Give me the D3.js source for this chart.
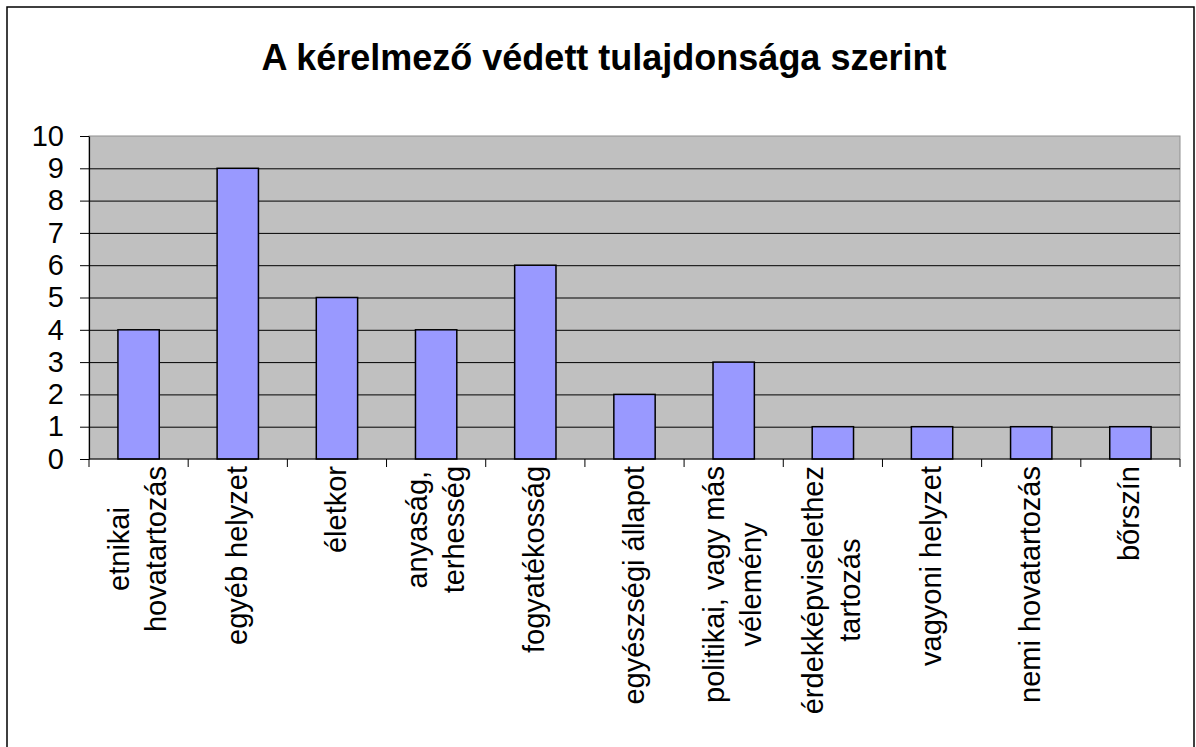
<!DOCTYPE html>
<html>
<head>
<meta charset="utf-8">
<script src="https://cdn.jsdelivr.net/npm/d3@7"></script>
<style>
  body { margin: 0; background: #fff; }
  svg { display: block; font-family: "Liberation Sans", Arial, sans-serif; }
</style>
</head>
<body>
<div id="chart"></div>
<script>
// chart data
var title = "A kérelmező védett tulajdonsága szerint";
var categories = [
   "etnikai\nhovatartozás",
   "egyéb helyzet",
   "életkor",
   "anyaság,\nterhesség",
   "fogyatékosság",
   "egyészségi állapot",
   "politikai, vagy más\nvélemény",
   "érdekképviselethez\ntartozás",
   "vagyoni helyzet",
   "nemi hovatartozás",
   "bőrszín"
];
var values = [4, 9, 5, 4, 6, 2, 3, 1, 1, 1, 1];
var yTicks = [0, 1, 2, 3, 4, 5, 6, 7, 8, 9, 10];

var width = 1196, height = 747;
var plot = {left: 89, right: 1180, top: 136, bottom: 459};

var svg = d3.select("#chart").append("svg")
   .attr("width", width)
   .attr("height", height);

// outer frame of the chart
svg.append("rect")
   .attr("x", 7).attr("y", 7)
   .attr("width", 1187).attr("height", 760)
   .attr("fill", "#fff")
   .attr("stroke", "#000")
   .attr("stroke-width", 1.5);

svg.append("text")
   .attr("x", 604).attr("y", 70)
   .attr("text-anchor", "middle")
   .attr("font-size", 36)
   .attr("font-weight", "bold")
   .text(title);

var x = d3.scaleBand()
   .domain(categories)
   .range([plot.left, plot.right])
   .padding(0);

var y = d3.scaleLinear()
   .domain([0, 10])
   .range([plot.bottom, plot.top]);

// grey plot area
svg.append("rect")
   .attr("x", plot.left).attr("y", plot.top)
   .attr("width", plot.right - plot.left)
   .attr("height", plot.bottom - plot.top)
   .attr("fill", "#c0c0c0")
   .attr("stroke", "#909090")
   .attr("stroke-width", 1);

// horizontal grid lines
svg.append("g").selectAll("line")
   .data(yTicks.slice(1, -1))
   .enter().append("line")
   .attr("x1", plot.left).attr("x2", plot.right)
   .attr("y1", function (d) { return y(d) + 0.5; })
   .attr("y2", function (d) { return y(d) + 0.5; })
   .attr("stroke", "#000")
   .attr("stroke-width", 1);

// bars, excel style gap width 140%
var barW = x.bandwidth() / 2.4;
svg.append("g").selectAll("rect")
   .data(values)
   .enter().append("rect")
   .attr("x", function (d, i) { return x(categories[i]) + x.bandwidth() / 2 - barW / 2; })
   .attr("y", function (d) { return y(d); })
   .attr("width", barW)
   .attr("height", function (d) { return y(0) - y(d); })
   .attr("fill", "#9999ff")
   .attr("stroke", "#000")
   .attr("stroke-width", 1.5);

// y axis
var yAxis = svg.append("g")
   .attr("transform", "translate(" + plot.left + ",0)")
   .call(d3.axisLeft(y).tickValues(yTicks).tickSize(9).tickPadding(16).tickSizeOuter(0));
yAxis.select(".domain").attr("stroke", "#000").attr("stroke-width", 1.2);
yAxis.selectAll(".tick line").attr("stroke", "#000");
yAxis.selectAll(".tick text")
   .attr("font-size", 29)
   .attr("font-family", "Liberation Sans, Arial, sans-serif")
   .attr("fill", "#000");

// x axis line with ticks on the category borders
var xg = svg.append("g");
xg.append("line")
   .attr("x1", plot.left).attr("x2", plot.right)
   .attr("y1", plot.bottom).attr("y2", plot.bottom)
   .attr("stroke", "#000").attr("stroke-width", 1.2);
var borders = categories.map(function (c) { return x(c); }).concat([plot.right]);
xg.selectAll("line.tk")
   .data(borders)
   .enter().append("line")
   .attr("class", "tk")
   .attr("x1", function (d) { return d; }).attr("x2", function (d) { return d; })
   .attr("y1", plot.bottom).attr("y2", plot.bottom + 8)
   .attr("stroke", "#000");

// rotated category labels, lines centred on each other
var lineH = 37, labelTop = 466;
categories.forEach(function (c) {
   var lines = c.split("\n");
   var cx = x(c) + x.bandwidth() / 2;
   var grp = xg.append("g");
   var texts = lines.map(function (ln, i) {
      var bx = cx + 9 + (i - (lines.length - 1) / 2) * lineH;
      return grp.append("text")
         .attr("transform", "translate(" + bx + ",0) rotate(-90)")
         .attr("text-anchor", "middle")
         .attr("font-size", 29)
         .text(ln);
   });
   var maxLen = d3.max(texts, function (t) { return t.node().getComputedTextLength(); });
   texts.forEach(function (t, i) {
      var bx = cx + 9 + (i - (lines.length - 1) / 2) * lineH;
      t.attr("transform", "translate(" + bx + "," + (labelTop + maxLen / 2) + ") rotate(-90)");
   });
});
</script>
</body>
</html>
